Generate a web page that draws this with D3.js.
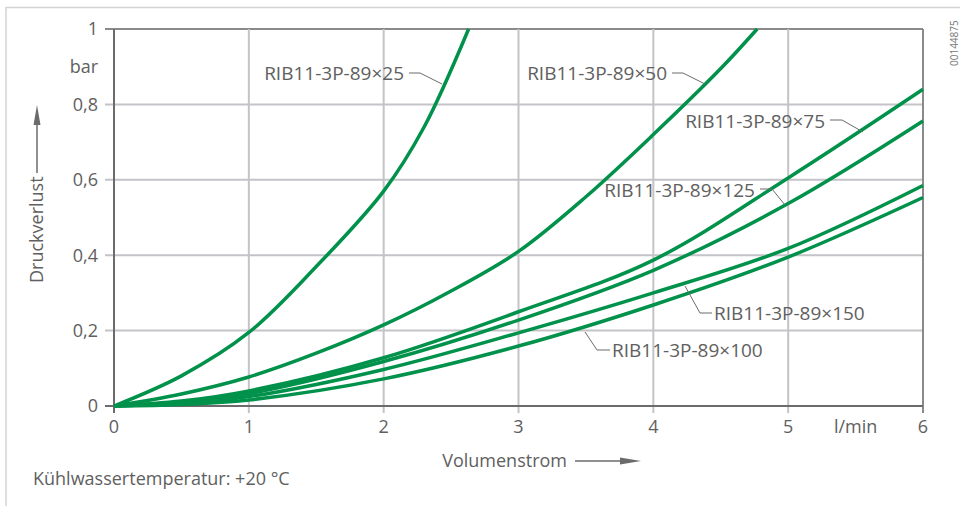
<!DOCTYPE html>
<html>
<head>
<meta charset="utf-8">
<script src="https://cdn.jsdelivr.net/npm/d3@7"></script>
<style>
  body { margin: 0; background: #fff; }
  svg { display: block; font-family: "Open Sans", "Lato", sans-serif; }
</style>
</head>
<body>
<svg id="chart" width="960" height="506"></svg>
<script>
// ticks
const xTicks = [0, 1, 2, 3, 4, 5, 6]
const yTicks = [0, 0.2, 0.4, 0.6, 0.8, 1]

// curve data (Volumenstrom l/min, Druckverlust bar)
const flow25 = [0, 0.5, 1, 1.5, 2, 2.3, 2.63]
const loss25 = [0, 0.08, 0.195, 0.37, 0.57, 0.74, 1.0]
const flow50 = [0, 0.5, 1, 1.5, 2, 2.5, 3, 3.5, 4, 4.5, 4.77]
const loss50 = [0, 0.032, 0.077, 0.14, 0.215, 0.305, 0.41, 0.555, 0.72, 0.895, 1.0]
const flowStd = [0, 0.5, 1, 2, 3, 4, 5, 6]
const loss75 = [0, 0.013, 0.04, 0.128, 0.25, 0.387, 0.605, 0.84]
const loss125 = [0, 0.01, 0.033, 0.118, 0.228, 0.36, 0.537, 0.756]
const loss150 = [0, 0.008, 0.025, 0.097, 0.194, 0.3, 0.418, 0.585]
const loss100 = [0, 0.004, 0.016, 0.072, 0.159, 0.268, 0.395, 0.553]

const seriesNames = ['RIB11-3P-89×25', 'RIB11-3P-89×50', 'RIB11-3P-89×75',
  'RIB11-3P-89×125', 'RIB11-3P-89×150', 'RIB11-3P-89×100']

const series = [
  {name: seriesNames[0], xs: flow25, ys: loss25},
  {name: seriesNames[1], xs: flow50, ys: loss50},
  {name: seriesNames[2], xs: flowStd, ys: loss75},
  {name: seriesNames[3], xs: flowStd, ys: loss125},
  {name: seriesNames[4], xs: flowStd, ys: loss150},
  {name: seriesNames[5], xs: flowStd, ys: loss100}
]

const svg = d3.select('#chart')
const grey = '#c3c3c8', dark = '#6b6b6b', txt = '#606060', green = '#00914b'
const fs = '18px', fsLab = '19px'

const x = d3.scaleLinear().domain([0, 6]).range([114, 923])
const y = d3.scaleLinear().domain([0, 1]).range([406, 29])

// outer frame
svg.append('path').attr('d', 'M6,506V7.5H960').attr('fill', 'none')
  .attr('stroke', '#d4d4d4').attr('stroke-width', 1.5)

// grid
svg.append('g').selectAll('line').data(yTicks.filter(d => d > 0)).enter().append('line')
  .attr('x1', 105).attr('x2', x(6)).attr('y1', d => y(d)).attr('y2', d => y(d))
  .attr('stroke', d => d === 1 ? '#8a8a8a' : grey).attr('stroke-width', 2)
svg.append('g').selectAll('line').data(xTicks.filter(d => d > 0)).enter().append('line')
  .attr('x1', d => x(d)).attr('x2', d => x(d)).attr('y1', y(1)).attr('y2', 413)
  .attr('stroke', d => d === 6 ? '#8a8a8a' : grey).attr('stroke-width', 2)

// axes
svg.append('line').attr('x1', 105).attr('x2', x(6)).attr('y1', y(0)).attr('y2', y(0))
  .attr('stroke', dark).attr('stroke-width', 2)
svg.append('line').attr('x1', x(0)).attr('x2', x(0)).attr('y1', y(1)).attr('y2', 413)
  .attr('stroke', dark).attr('stroke-width', 2)

// tick labels
svg.append('g').selectAll('text').data(yTicks).enter().append('text')
  .attr('x', 98).attr('y', d => y(d)).attr('dy', '0.35em').attr('text-anchor', 'end')
  .attr('fill', txt).style('font-size', fs)
  .text(d => d3.format('.1f')(d).replace('.', ',').replace(/,0$/, ''))
svg.append('text').attr('x', 98).attr('y', y(0.9)).attr('dy', '0.35em').attr('text-anchor', 'end')
  .attr('fill', txt).style('font-size', fs).text('bar')
svg.append('g').selectAll('text').data(xTicks).enter().append('text')
  .attr('x', d => x(d)).attr('y', 427).attr('dy', '0.35em').attr('text-anchor', 'middle')
  .attr('fill', txt).style('font-size', fs).text(d => d)
svg.append('text').attr('x', x(5.5)).attr('y', 427).attr('dy', '0.35em').attr('text-anchor', 'middle')
  .attr('fill', txt).style('font-size', fs).text('l/min')

// axis titles with arrows
svg.append('text').attr('x', 567).attr('y', 461).attr('dy', '0.35em').attr('text-anchor', 'end')
  .attr('fill', txt).style('font-size', fs).text('Volumenstrom')
svg.append('line').attr('x1', 575).attr('x2', 625).attr('y1', 461).attr('y2', 461)
  .attr('stroke', dark).attr('stroke-width', 1.5)
svg.append('path').attr('d', 'M620,457.5L641,461L620,464.5Z').attr('fill', dark)

svg.append('text').attr('transform', 'translate(37,283) rotate(-90)').attr('dy', '0.35em')
  .attr('fill', txt).style('font-size', fs).text('Druckverlust')
svg.append('line').attr('x1', 37).attr('x2', 37).attr('y1', 173).attr('y2', 120)
  .attr('stroke', dark).attr('stroke-width', 1.5)
svg.append('path').attr('d', 'M33.5,125L37,105L40.5,125Z').attr('fill', dark)

svg.append('text').attr('x', 33).attr('y', 479).attr('dy', '0.35em')
  .attr('fill', txt).style('font-size', fs).text('Kühlwassertemperatur: +20 °C')

svg.append('text').attr('transform', 'translate(954,66) rotate(-90)').attr('dy', '0.35em')
  .attr('fill', '#777').style('font-size', '10px').text('00144875')

// curves
const line = d3.line().x(d => x(d[0])).y(d => y(d[1])).curve(d3.curveCatmullRom.alpha(0.5))
svg.append('g').selectAll('path').data(series).enter().append('path')
  .attr('d', s => line(s.xs.map((v, i) => [v, s.ys[i]])))
  .attr('fill', 'none').attr('stroke', green).attr('stroke-width', 3.5)

// labels with leader lines
const labels = [
  {name: seriesNames[0], tx: 404, ty: 73, lines: [[409, 73], [420, 73], [442, 84]]},
  {name: seriesNames[1], tx: 667, ty: 73, lines: [[672, 73], [683, 73], [705, 84]]},
  {name: seriesNames[2], tx: 825, ty: 121, lines: [[830, 120], [842, 120], [863, 132]]},
  {name: seriesNames[3], tx: 755, ty: 190, lines: [[760, 189], [772, 189], [785, 205]]},
  {name: seriesNames[4], tx: 714, ty: 313, anchor: 'start', lines: [[685, 286], [700, 313], [712, 313]]},
  {name: seriesNames[5], tx: 612, ty: 350, anchor: 'start', lines: [[585, 332], [597, 350], [610, 350]]}
]
const lab = svg.append('g').selectAll('g').data(labels).enter().append('g')
lab.append('path').attr('d', d => d3.line()(d.lines)).attr('fill', 'none')
  .attr('stroke', dark).attr('stroke-width', 1)
lab.append('text').attr('x', d => d.tx).attr('y', d => d.ty).attr('dy', '0.35em')
  .attr('text-anchor', d => d.anchor || 'end').attr('fill', txt).style('font-size', fsLab)
  .text(d => d.name)
</script>
</body>
</html>
